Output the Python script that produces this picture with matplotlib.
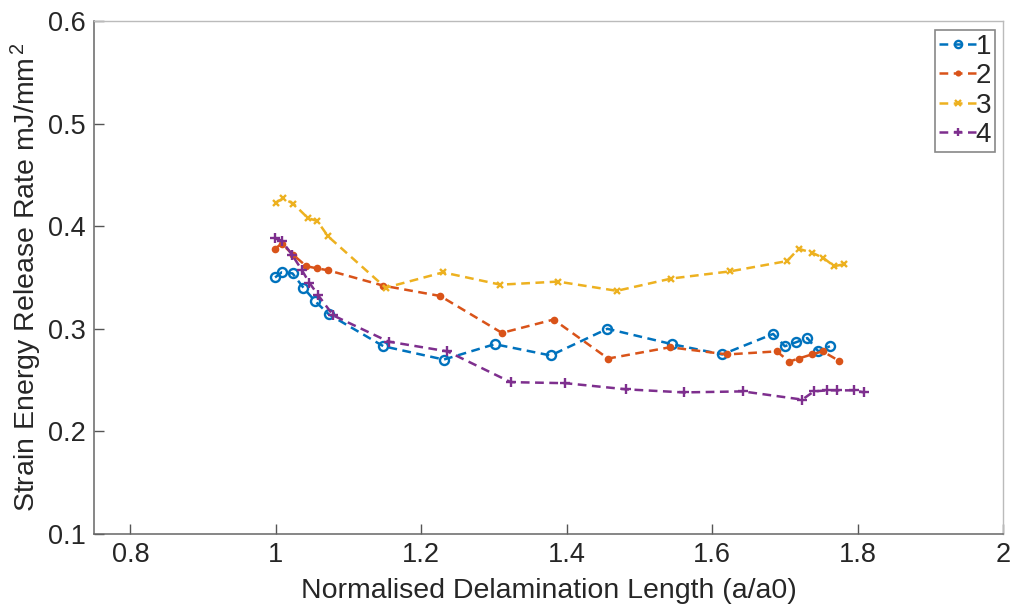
import matplotlib
matplotlib.use("Agg")
import matplotlib.pyplot as plt

plt.rcParams["font.family"] = ["Liberation Sans", "DejaVu Sans"]
plt.rcParams["mathtext.fontset"] = "custom"
plt.rcParams["mathtext.rm"] = "Liberation Sans"
plt.rcParams["mathtext.it"] = "Liberation Sans"

# Normalised delamination length (a/a0) and strain energy release rate per specimen
x1 = [0.999, 1.008, 1.023, 1.038, 1.054, 1.073, 1.148, 1.231, 1.301, 1.378,
      1.456, 1.545, 1.614, 1.684, 1.700, 1.716, 1.731, 1.746, 1.762]
y1 = [0.350, 0.355, 0.354, 0.340, 0.327, 0.314, 0.283, 0.270, 0.285, 0.274,
      0.300, 0.285, 0.275, 0.295, 0.283, 0.287, 0.291, 0.278, 0.283]

x2 = [0.999, 1.008, 1.024, 1.042, 1.056, 1.072, 1.148, 1.226, 1.311, 1.382,
      1.457, 1.542, 1.621, 1.689, 1.706, 1.719, 1.737, 1.752, 1.774]
y2 = [0.378, 0.383, 0.372, 0.361, 0.359, 0.357, 0.342, 0.332, 0.296, 0.309,
      0.271, 0.282, 0.275, 0.278, 0.268, 0.271, 0.275, 0.278, 0.269]

x3 = [1.000, 1.010, 1.024, 1.044, 1.057, 1.072, 1.151, 1.230, 1.309, 1.388,
      1.469, 1.544, 1.625, 1.703, 1.719, 1.738, 1.753, 1.768, 1.782]
y3 = [0.423, 0.427, 0.422, 0.408, 0.405, 0.390, 0.340, 0.355, 0.343, 0.346,
      0.337, 0.349, 0.356, 0.366, 0.378, 0.374, 0.369, 0.361, 0.363]

x4 = [0.999, 1.008, 1.0225, 1.036, 1.046, 1.058, 1.079, 1.155, 1.236, 1.323,
      1.398, 1.482, 1.561, 1.642, 1.724, 1.740, 1.758, 1.772, 1.795, 1.809]
y4 = [0.388, 0.386, 0.372, 0.357, 0.345, 0.333, 0.313, 0.2875, 0.278, 0.248,
      0.247, 0.241, 0.238, 0.239, 0.231, 0.239, 0.240, 0.240, 0.240, 0.238]

labels = ["1", "2", "3", "4"]
xticks = [0.8, 1.0, 1.2, 1.4, 1.6, 1.8, 2.0]
xtick_labels = ["0.8", "1", "1.2", "1.4", "1.6", "1.8", "2"]
yticks = [0.1, 0.2, 0.3, 0.4, 0.5, 0.6]

fig = plt.figure(figsize=(10.13, 6.15), dpi=100)
ax = fig.add_axes([0.0928, 0.1317, 0.8973, 0.8342])

styles = [
    dict(color="#0072BD", marker="o", markersize=6.5, markerfacecolor="none", markeredgewidth=1.7),
    dict(color="#D95319", marker="o", markersize=5.5, markerfacecolor="#D95319", markeredgewidth=0),
    dict(color="#EDB120", marker="x", markersize=5, markeredgewidth=1.7),
    dict(color="#7E2F8E", marker="+", markersize=7, markeredgewidth=1.7),
]
series = [(x1, y1), (x2, y2), (x3, y3), (x4, y4)]
for (xs, ys), lab, st in zip(series, labels, styles):
    line, = ax.plot(xs, ys, linestyle="--", linewidth=1.8, label=lab, **st)
    line.set_dashes((3.5, 2.2))

ax.set_xlim(0.75, 2.0)
ax.set_ylim(0.1, 0.6)
ax.set_xticks(xticks)
ax.set_xticklabels(xtick_labels)
ax.set_yticks(yticks)
ax.set_yticklabels([f"{v:.1f}" for v in yticks])

ax.tick_params(direction="in", length=7, width=1, colors="#555555",
               labelcolor="#262626", labelsize=19.5, pad=6)
for side in ("left", "bottom"):
    ax.spines[side].set_color("#666666")
    ax.spines[side].set_linewidth(1.1)
for side in ("top", "right"):
    ax.spines[side].set_color("#bbbbbb")
    ax.spines[side].set_linewidth(1.0)

ax.set_xlabel("Normalised Delamination Length (a/a0)", fontsize=20.5, color="#262626", labelpad=7)
ax.set_ylabel("Strain Energy Release Rate mJ/mm$^{\\,2}$", fontsize=20.5, color="#262626", labelpad=3)

leg = ax.legend(loc="upper right", bbox_to_anchor=(0.9915, 0.983), bbox_transform=ax.transAxes,
                fontsize=20, handlelength=1.3, handletextpad=0.0,
                borderpad=0.15, labelspacing=0.12, borderaxespad=0.0, fancybox=False,
                framealpha=1, edgecolor="#888888", markerscale=0.8)
leg.get_frame().set_linewidth(1.2)
for t in leg.get_texts():
    t.set_color("#262626")

fig.savefig("out.png", dpi=100, facecolor="white")
